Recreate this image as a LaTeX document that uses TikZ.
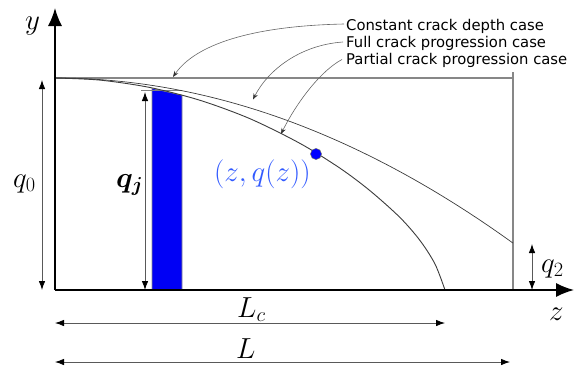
\RequirePackage{fix-cm}
\documentclass[tikz,border=0pt]{standalone}
\usepackage{amsmath,amsbsy}
\usepackage{fontspec}
\newfontfamily\labfont{DejaVu Sans}
\usetikzlibrary{arrows.meta}
\definecolor{curvegray}{RGB}{60,60,60}
\definecolor{framegray}{RGB}{135,135,135}
\definecolor{labelblue}{RGB}{50,90,255}
\definecolor{barblue}{RGB}{0,0,245}
\tikzset{
  axisline/.style={line width=1.5pt, black, -{Latex[length=18pt,width=14pt]}},
  frameline/.style={line width=1.3pt, framegray},
  curveline/.style={line width=0.9pt, curvegray},
  dimarrow/.style={line width=0.8pt, black!65, {Latex[length=9pt,width=6.5pt,black]}-{Latex[length=9pt,width=6.5pt,black]}},
  leader/.style={line width=0.6pt, black!60, -{Stealth[length=6pt,width=4.5pt,black!80]}},
  casetext/.style={font=\labfont\fontsize{14.8}{17}\selectfont, anchor=base west, inner sep=0pt},
  mathlabel/.style={font=\fontsize{29}{34}\selectfont, anchor=base west, inner sep=0pt}
}
\begin{document}
\begin{tikzpicture}[x=1pt,y=-1pt]
\useasboundingbox (0,0) rectangle (574,367);
% key points
\coordinate (O) at (55,290);
\coordinate (Ytop) at (55,8);
\coordinate (Xend) at (574,290);
\coordinate (TL) at (55,78);
\coordinate (TR) at (513,78);
\coordinate (RT) at (513,72);
\coordinate (RB) at (513,290);
% blue bar
\coordinate (BarBL) at (152,290);
\coordinate (BarTL) at (152,88.5);
\coordinate (BarTR) at (182,95.2);
\coordinate (BarBR) at (182,290);
\fill[barblue] (BarBL) -- (BarTL) -- (BarTR) -- (BarBR) -- cycle;
\draw[line width=0.6pt, black!45] (BarBL) -- (BarTL) -- (BarTR) -- (BarBR);
\coordinate (TickL) at (141,90.5);
\coordinate (TickR) at (182,90.5);
\draw[line width=0.6pt, black!50] (TickL) -- (TickR);
% frame lines (constant crack depth)
\draw[frameline] (TL) -- (TR);
\draw[frameline] (RT) -- (RB);
% full crack progression curve (parabola)
\draw[curveline, line width=0.7pt] plot[domain=55:513, samples=80] (\x, {78+7.87*((\x-55)/100)^2});
% partial crack progression curve
\draw[curveline] plot[smooth, tension=0.5] coordinates {(55,78) (100,80.1) (150,87.5) (200,100.3) (250,118.7) (300,143.4) (340,168.2) (370,190.7) (400,217.5) (420,240.5) (435,264) (445,290)};
% axes
\draw[axisline] (O) -- (Ytop);
\draw[axisline] (O) -- (Xend);
% dimension arrows
\coordinate (Q0T) at (42,80);  \coordinate (Q0B) at (42,290);
\coordinate (QjT) at (145,92); \coordinate (QjB) at (145,290);
\coordinate (Q2T) at (532,244); \coordinate (Q2B) at (532,290);
\coordinate (LcL) at (55,323); \coordinate (LcR) at (445,323);
\coordinate (LL) at (55,362);  \coordinate (LR) at (510,362);
\draw[dimarrow] (Q0T) -- (Q0B);
\draw[dimarrow] (QjT) -- (QjB);
\draw[dimarrow] (Q2T) -- (Q2B);
\draw[dimarrow] (LcL) -- (LcR);
\draw[dimarrow] (LL) -- (LR);
% point on curve
\node[circle, fill=blue, draw=black!60, line width=0.5pt, inner sep=0pt, minimum size=11pt] (dot) at (316,154) {};
% case labels
\node[casetext] (c1) at (346,30) {Constant crack depth case};
\node[casetext] (c2) at (346,47.5) {Full crack progression case};
\node[casetext] (c3) at (346,64.5) {Partial crack progression case};
\coordinate (c1s) at (344,24);
\coordinate (c2s) at (343,42);
\coordinate (c3s) at (342,59.5);
\coordinate (c1e) at (173,77);
\coordinate (c2e) at (253,99.5);
\coordinate (c3e) at (281,134);
\draw[leader] (c1s) .. controls (250,26) and (195,45) .. (c1e);
\draw[leader] (c2s) .. controls (300,45) and (268,70) .. (c2e);
\draw[leader] (c3s) .. controls (322,70) and (298,100) .. (c3e);
% math labels
\node[mathlabel] (ylab) at (25,29) {$y$};
\node[mathlabel] (zlab) at (549,320) {$z$};
\node[mathlabel] (q0lab) at (13,187) {$q_0$};
\node[mathlabel] (qjlab) at (116,187) {$\boldsymbol{q_j}$};
\node[mathlabel] (q2lab) at (541,272) {$q_2$};
\node[mathlabel] (Lclab) at (237,317) {$L_c$};
\node[mathlabel] (Llab) at (236,358) {$L$};
\node[mathlabel, text=labelblue] (pt) at (214,181) {$(z,q(z))$};
\end{tikzpicture}
\end{document}
